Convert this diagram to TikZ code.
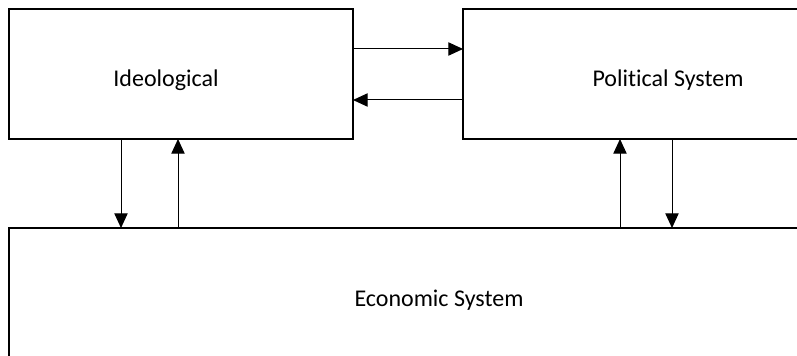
\documentclass[tikz,border=0pt]{standalone}
\usepackage{fontspec}
\setmainfont{Carlito}[Ligatures={NoCommon,NoRare}]
\usetikzlibrary{arrows.meta}
\tikzset{
  sysbox/.style={draw, line width=1.3pt, inner sep=0pt, outer sep=0pt, anchor=north west},
  arr/.style={line width=0.75pt, -{Triangle[length=11pt,width=10pt]}}
}
\begin{document}
\begin{tikzpicture}[x=0.75pt,y=-0.75pt,font=\fontsize{18pt}{21pt}\selectfont]
  \useasboundingbox (0,0) rectangle (797,356);
  \clip (0,0) rectangle (797,356);
  % boxes
  \node[sysbox, minimum width=258pt, minimum height=97.5pt] (ideo) at (9,9) {};
  \node[sysbox, minimum width=285pt, minimum height=97.5pt] (pol) at (463,9) {};
  \node[sysbox, minimum width=640pt, minimum height=130pt] (econ) at (9,228) {};
  % labels
  \node (ideotxt) at (166,80) {Ideological};
  \node (poltxt) at (668,80) {Political System};
  \node (econtxt) at (439,300) {Economic System};
  % arrows between the systems
  \draw[arr] (ideo.east |- 0,49) -- (pol.west |- 0,49);
  \draw[arr] (pol.west |- 0,100) -- (ideo.east |- 0,100);
  \draw[arr] (ideo.south -| 121,0) -- (econ.north -| 121,0);
  \draw[arr] (econ.north -| 178,0) -- (ideo.south -| 178,0);
  \draw[arr] (econ.north -| 620,0) -- (pol.south -| 620,0);
  \draw[arr] (pol.south -| 672,0) -- (econ.north -| 672,0);
\end{tikzpicture}
\end{document}
